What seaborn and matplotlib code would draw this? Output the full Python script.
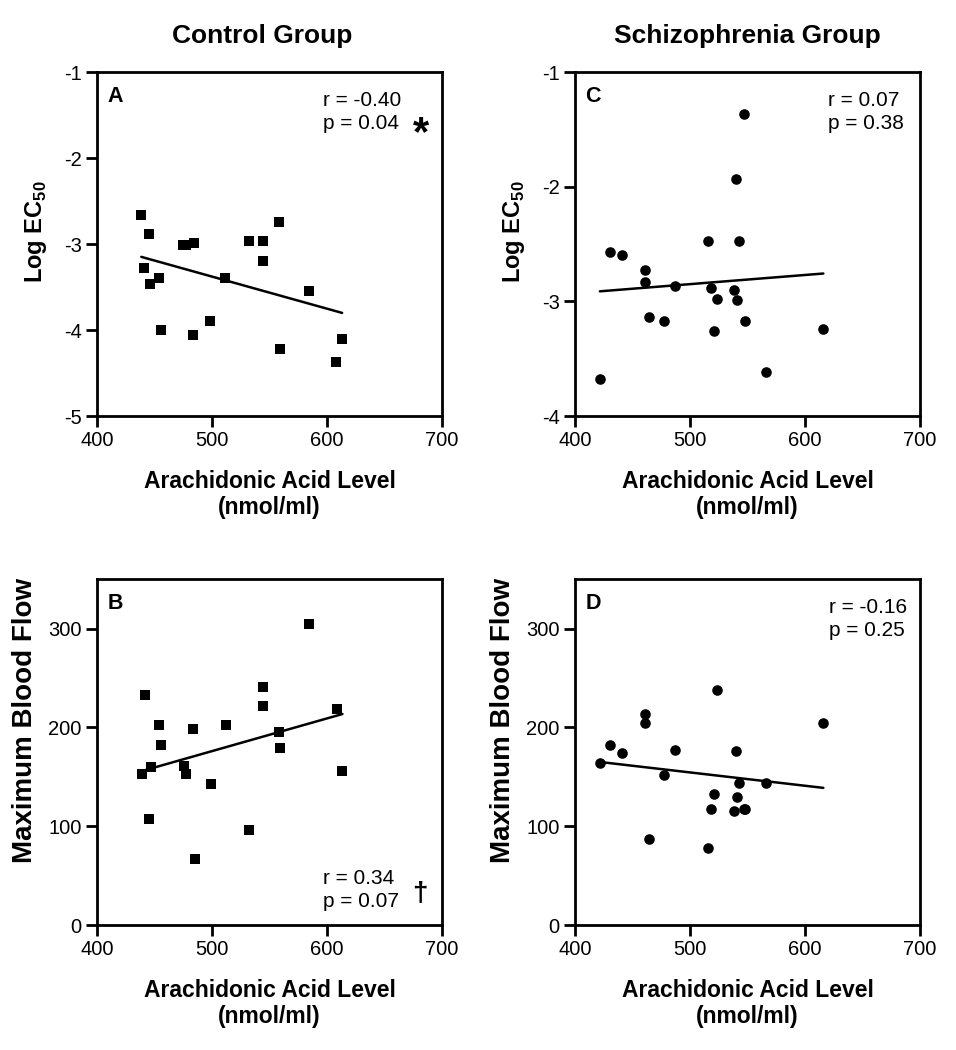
import matplotlib
matplotlib.use("Agg")
import matplotlib.pyplot as plt
import seaborn as sns
import pandas as pd

sns.set_theme(style="ticks")
plt.rcParams['font.family'] = ['Liberation Sans', 'DejaVu Sans']
plt.rcParams['mathtext.fontset'] = 'custom'
plt.rcParams['mathtext.rm'] = 'Liberation Sans'
plt.rcParams['mathtext.bf'] = 'Liberation Sans:bold'
plt.rcParams['axes.unicode_minus'] = False
plt.rcParams['text.color'] = 'black'
plt.rcParams['axes.labelcolor'] = 'black'

# control group (squares), same subjects in panels A and B
control_aa = [438.5, 441.2, 445.3, 446.3, 453.6, 455.5, 475.1, 477.6, 483.4, 484.7,
              498.5, 511.6, 531.8, 544.2, 544.2, 557.8, 559.0, 584.0, 608.1, 613.1]
control_ec50 = [-2.66, -3.28, -2.88, -3.47, -3.39, -4.00, -3.01, -3.01, -4.06, -2.99,
                -3.89, -3.39, -2.97, -2.97, -3.20, -2.74, -4.22, -3.55, -4.37, -4.10]
control_aa_b = [438.7, 441.6, 445.6, 446.8, 453.8, 455.8, 475.6, 477.6, 483.7, 484.9,
                498.8, 511.9, 532.0, 544.5, 544.5, 558.1, 559.3, 584.3, 608.4, 613.4]
control_flow = [152.5, 232.7, 106.9, 159.6, 201.9, 181.9, 161.3, 152.5, 198.5, 67.0,
                143.1, 202.6, 96.0, 240.8, 221.2, 194.8, 179.6, 305.0, 218.5, 155.6]

# schizophrenia group (circles), panels C and D
schizo_aa = [421.6, 430.8, 441.2, 460.8, 460.8, 464.6, 477.5, 487.3, 515.2, 518.2,
             521.0, 523.1, 537.8, 540.1, 541.2, 542.9, 546.5, 548.1, 566.0, 615.9]
schizo_ec50 = [-3.68, -2.57, -2.60, -2.73, -2.83, -3.14, -3.17, -2.87, -2.47, -2.88,
               -3.26, -2.98, -2.90, -1.93, -2.99, -2.47, -1.37, -3.17, -3.62, -3.24]
schizo_flow = [163.8, 182.4, 173.6, 213.2, 204.1, 87.0, 151.3, 177.0, 77.8, 117.1,
               133.0, 237.9, 115.7, 175.6, 129.6, 144.2, 117.8, 117.1, 143.5, 204.7]

group_titles = ["Control Group", "Schizophrenia Group"]
stats = {"A": ("r = -0.40\np = 0.04", "*"), "B": ("r = 0.34\np = 0.07", "\u2020"),
         "C": ("r = 0.07\np = 0.38", ""), "D": ("r = -0.16\np = 0.25", "")}

x_label = "Arachidonic Acid Level\n(nmol/ml)"
ec50_label = r"Log EC$_{\mathbf{50}}$"
flow_label = "Maximum Blood Flow"

fig = plt.figure(figsize=(9.56, 10.5), dpi=100)

panels = [
    # letter, x, y, marker, size, rect, ylim, yticks, ylabel, stats x
    ("A", control_aa, control_ec50, "s", 46, [0.1015, 0.6038, 0.3609, 0.3276], (-5, -1), [-5, -4, -3, -2, -1], ec50_label, 0.655),
    ("C", schizo_aa, schizo_ec50, "o", 58, [0.6015, 0.6038, 0.3609, 0.3276], (-4, -1), [-4, -3, -2, -1], ec50_label, 0.733),
    ("B", control_aa_b, control_flow, "s", 46, [0.1015, 0.1190, 0.3609, 0.3295], (0, 350), [0, 100, 200, 300], flow_label, 0.655),
    ("D", schizo_aa, schizo_flow, "o", 58, [0.6015, 0.1190, 0.3609, 0.3295], (0, 350), [0, 100, 200, 300], flow_label, 0.736),
]

for letter, xs, ys, marker, size, rect, ylim, yticks, ylabel, sx in panels:
    ax = fig.add_axes(rect)
    df = pd.DataFrame({"aa": xs, "val": ys})
    sns.regplot(data=df, x="aa", y="val", ax=ax, ci=None, marker=marker,
                scatter_kws={"s": size, "color": "black", "linewidths": 0, "alpha": 1},
                line_kws={"color": "black", "lw": 1.8})
    ax.set_xlim(400, 700)
    ax.set_xticks([400, 500, 600, 700])
    ax.set_ylim(*ylim)
    ax.set_yticks(yticks)
    for sp in ax.spines.values():
        sp.set_linewidth(2)
        sp.set_color("black")
    ax.tick_params(direction="out", length=8, width=2, labelsize=14.5, colors="black", pad=3)
    ax.set_xlabel(x_label, fontsize=16.5, fontweight="bold", labelpad=14, linespacing=1.2)
    if ylabel == flow_label:
        ax.set_ylabel(ylabel, fontsize=20, fontweight="bold")
        ax.yaxis.set_label_coords(-0.172, 0.59)
    else:
        ax.set_ylabel(ylabel, fontsize=17, fontweight="bold")
        ax.yaxis.set_label_coords(-0.138, 0.535)
    ax.text(0.03, 0.96, letter, transform=ax.transAxes, fontsize=15.5, fontweight="bold",
            ha="left", va="top")
    txt, mark = stats[letter]
    if letter == "B":
        ax.text(sx, 0.04, txt, transform=ax.transAxes, fontsize=15, ha="left", va="bottom",
                linespacing=1.25)
        ax.text(0.935, 0.09, mark, transform=ax.transAxes, fontsize=20, fontweight="bold",
                ha="center", va="center")
    else:
        ax.text(sx, 0.945, txt, transform=ax.transAxes, fontsize=15, ha="left", va="top",
                linespacing=1.25)
        if mark:
            ax.text(0.94, 0.82, mark, transform=ax.transAxes, fontsize=30, fontweight="bold",
                    ha="center", va="center")

fig.text(0.274, 0.966, group_titles[0], fontsize=19, fontweight="bold", ha="center", va="center")
fig.text(0.782, 0.966, group_titles[1], fontsize=19, fontweight="bold", ha="center", va="center")

fig.savefig("out.png", dpi=100, facecolor="white")
